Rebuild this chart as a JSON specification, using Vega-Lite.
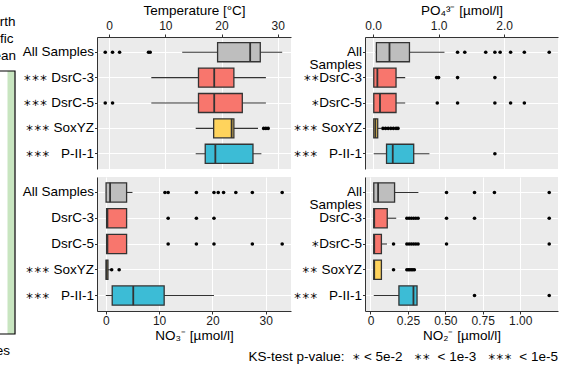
{
  "$schema": "https://vega.github.io/schema/vega-lite/v6.json",
  "autosize": "none",
  "padding": {"left": 0, "top": 37, "right": 565, "bottom": 331},
  "config": {
    "font": "Liberation Sans",
    "view": {"stroke": null, "fill": "#EBEBEB"},
    "axis": {
      "labelFont": "Liberation Sans, DejaVu Sans Mono", "titleFont": "Liberation Sans",
      "labelColor": "#1A1A1A", "titleColor": "#000000", "titleFontWeight": "normal",
      "titleFontSize": 13.5, "labelFontSize": 12,
      "tickColor": "#333333", "tickSize": 3, "tickWidth": 1,
      "domainColor": "#333333", "domainWidth": 1,
      "gridColor": "#FFFFFF", "gridWidth": 1.1, "gridOpacity": 1,
      "labelPadding": 1.5, "titlePadding": 2
    },
    "axisY": {"labelFontSize": 13.5, "labelColor": "#000000", "labelPadding": 1, "tickSize": 2.5}
  },
  "title": {
    "text": "KS-test p-value:\u00a0\u00a0∗ < 5e-2\u00a0\u00a0\u00a0∗∗\u00a0 < 1e-3\u00a0\u00a0\u00a0∗∗∗\u00a0 < 1e-5",
    "orient": "bottom", "anchor": "end", "frame": "bounds",
    "font": "Liberation Sans, DejaVu Sans Mono", "fontSize": 13.5, "fontWeight": "normal", "color": "#000000", "offset": -8
  },
  "datasets": {
    "boxes": [
      {"variable": "temp", "group": "All Samples", "lo": 13.0, "q1": 19.3, "med": 25.1, "q3": 26.9, "hi": 30.8},
      {"variable": "temp", "group": "DsrC-3", "lo": 7.5, "q1": 15.9, "med": 18.7, "q3": 22.2, "hi": 27.9},
      {"variable": "temp", "group": "DsrC-5", "lo": 7.5, "q1": 15.9, "med": 18.7, "q3": 23.7, "hi": 27.9},
      {"variable": "temp", "group": "SoxYZ", "lo": 15.4, "q1": 18.6, "med": 21.8, "q3": 22.2, "hi": 26.5},
      {"variable": "temp", "group": "P-II-1", "lo": 15.4, "q1": 17.1, "med": 18.9, "q3": 25.6, "hi": 27.1},
      {"variable": "no3", "group": "All Samples", "lo": 0.0, "q1": 0.05, "med": 0.8, "q3": 3.9, "hi": 5.0},
      {"variable": "no3", "group": "DsrC-3", "lo": 0.1, "q1": 0.15, "med": 0.3, "q3": 3.9, "hi": 3.9},
      {"variable": "no3", "group": "DsrC-5", "lo": 0.1, "q1": 0.15, "med": 0.3, "q3": 3.9, "hi": 3.9},
      {"variable": "no3", "group": "SoxYZ", "lo": 0.0, "q1": 0.05, "med": 0.15, "q3": 0.4, "hi": 0.8},
      {"variable": "no3", "group": "P-II-1", "lo": 0.0, "q1": 1.2, "med": 5.15, "q3": 10.95, "hi": 20.3},
      {"variable": "po4", "group": "All Samples", "lo": 0.04, "q1": 0.05, "med": 0.25, "q3": 0.555, "hi": 1.09},
      {"variable": "po4", "group": "DsrC-3", "lo": 0.01, "q1": 0.01, "med": 0.065, "q3": 0.35, "hi": 0.49},
      {"variable": "po4", "group": "DsrC-5", "lo": 0.01, "q1": 0.01, "med": 0.105, "q3": 0.35, "hi": 0.49},
      {"variable": "po4", "group": "SoxYZ", "lo": 0.01, "q1": 0.01, "med": 0.035, "q3": 0.07, "hi": 0.12},
      {"variable": "po4", "group": "P-II-1", "lo": 0.01, "q1": 0.205, "med": 0.3, "q3": 0.62, "hi": 0.86},
      {"variable": "no2", "group": "All Samples", "lo": 0.022, "q1": 0.022, "med": 0.051, "q3": 0.161, "hi": 0.32},
      {"variable": "no2", "group": "DsrC-3", "lo": 0.022, "q1": 0.022, "med": 0.025, "q3": 0.112, "hi": 0.172},
      {"variable": "no2", "group": "DsrC-5", "lo": 0.022, "q1": 0.022, "med": 0.025, "q3": 0.073, "hi": 0.11},
      {"variable": "no2", "group": "SoxYZ", "lo": 0.022, "q1": 0.022, "med": 0.025, "q3": 0.073, "hi": 0.073},
      {"variable": "no2", "group": "P-II-1", "lo": 0.022, "q1": 0.19, "med": 0.287, "q3": 0.311, "hi": 0.311}
    ],
    "outliers": [
      {"variable": "temp", "group": "All Samples", "value": -0.7},
      {"variable": "temp", "group": "All Samples", "value": 0.6},
      {"variable": "temp", "group": "All Samples", "value": 1.85},
      {"variable": "temp", "group": "All Samples", "value": 7.0},
      {"variable": "temp", "group": "All Samples", "value": 7.3},
      {"variable": "temp", "group": "DsrC-5", "value": -0.7},
      {"variable": "temp", "group": "DsrC-5", "value": 0.6},
      {"variable": "temp", "group": "SoxYZ", "value": 27.5},
      {"variable": "temp", "group": "SoxYZ", "value": 27.9},
      {"variable": "temp", "group": "SoxYZ", "value": 28.3},
      {"variable": "no3", "group": "All Samples", "value": 11.1},
      {"variable": "no3", "group": "All Samples", "value": 11.7},
      {"variable": "no3", "group": "All Samples", "value": 17.0},
      {"variable": "no3", "group": "All Samples", "value": 20.3},
      {"variable": "no3", "group": "All Samples", "value": 21.1},
      {"variable": "no3", "group": "All Samples", "value": 22.1},
      {"variable": "no3", "group": "All Samples", "value": 24.4},
      {"variable": "no3", "group": "All Samples", "value": 27.5},
      {"variable": "no3", "group": "All Samples", "value": 33.1},
      {"variable": "no3", "group": "DsrC-3", "value": 11.7},
      {"variable": "no3", "group": "DsrC-3", "value": 17.0},
      {"variable": "no3", "group": "DsrC-3", "value": 20.3},
      {"variable": "no3", "group": "DsrC-5", "value": 11.7},
      {"variable": "no3", "group": "DsrC-5", "value": 17.0},
      {"variable": "no3", "group": "DsrC-5", "value": 20.3},
      {"variable": "no3", "group": "DsrC-5", "value": 27.5},
      {"variable": "no3", "group": "DsrC-5", "value": 33.1},
      {"variable": "no3", "group": "SoxYZ", "value": 1.1},
      {"variable": "no3", "group": "SoxYZ", "value": 2.5},
      {"variable": "po4", "group": "All Samples", "value": 1.29},
      {"variable": "po4", "group": "All Samples", "value": 1.4},
      {"variable": "po4", "group": "All Samples", "value": 1.72},
      {"variable": "po4", "group": "All Samples", "value": 1.86},
      {"variable": "po4", "group": "All Samples", "value": 1.94},
      {"variable": "po4", "group": "All Samples", "value": 2.1},
      {"variable": "po4", "group": "All Samples", "value": 2.31},
      {"variable": "po4", "group": "All Samples", "value": 2.69},
      {"variable": "po4", "group": "DsrC-3", "value": 0.97},
      {"variable": "po4", "group": "DsrC-3", "value": 1.0},
      {"variable": "po4", "group": "DsrC-3", "value": 1.29},
      {"variable": "po4", "group": "DsrC-3", "value": 1.86},
      {"variable": "po4", "group": "DsrC-5", "value": 0.98},
      {"variable": "po4", "group": "DsrC-5", "value": 1.29},
      {"variable": "po4", "group": "DsrC-5", "value": 1.86},
      {"variable": "po4", "group": "DsrC-5", "value": 2.1},
      {"variable": "po4", "group": "DsrC-5", "value": 2.31},
      {"variable": "po4", "group": "SoxYZ", "value": 0.15},
      {"variable": "po4", "group": "SoxYZ", "value": 0.19},
      {"variable": "po4", "group": "SoxYZ", "value": 0.23},
      {"variable": "po4", "group": "SoxYZ", "value": 0.27},
      {"variable": "po4", "group": "SoxYZ", "value": 0.31},
      {"variable": "po4", "group": "SoxYZ", "value": 0.35},
      {"variable": "po4", "group": "SoxYZ", "value": 0.38},
      {"variable": "po4", "group": "P-II-1", "value": 1.86},
      {"variable": "no2", "group": "All Samples", "value": 0.508},
      {"variable": "no2", "group": "All Samples", "value": 0.695},
      {"variable": "no2", "group": "All Samples", "value": 0.828},
      {"variable": "no2", "group": "All Samples", "value": 1.194},
      {"variable": "no2", "group": "DsrC-3", "value": 0.243},
      {"variable": "no2", "group": "DsrC-3", "value": 0.258},
      {"variable": "no2", "group": "DsrC-3", "value": 0.273},
      {"variable": "no2", "group": "DsrC-3", "value": 0.288},
      {"variable": "no2", "group": "DsrC-3", "value": 0.303},
      {"variable": "no2", "group": "DsrC-3", "value": 0.318},
      {"variable": "no2", "group": "DsrC-3", "value": 0.508},
      {"variable": "no2", "group": "DsrC-3", "value": 0.695},
      {"variable": "no2", "group": "DsrC-3", "value": 1.194},
      {"variable": "no2", "group": "DsrC-5", "value": 0.154},
      {"variable": "no2", "group": "DsrC-5", "value": 0.243},
      {"variable": "no2", "group": "DsrC-5", "value": 0.258},
      {"variable": "no2", "group": "DsrC-5", "value": 0.273},
      {"variable": "no2", "group": "DsrC-5", "value": 0.288},
      {"variable": "no2", "group": "DsrC-5", "value": 0.303},
      {"variable": "no2", "group": "DsrC-5", "value": 0.318},
      {"variable": "no2", "group": "DsrC-5", "value": 0.508},
      {"variable": "no2", "group": "DsrC-5", "value": 1.194},
      {"variable": "no2", "group": "SoxYZ", "value": 0.154},
      {"variable": "no2", "group": "SoxYZ", "value": 0.243},
      {"variable": "no2", "group": "SoxYZ", "value": 0.253},
      {"variable": "no2", "group": "SoxYZ", "value": 0.263},
      {"variable": "no2", "group": "SoxYZ", "value": 0.273},
      {"variable": "no2", "group": "SoxYZ", "value": 0.283},
      {"variable": "no2", "group": "SoxYZ", "value": 0.293},
      {"variable": "no2", "group": "P-II-1", "value": 0.695},
      {"variable": "no2", "group": "P-II-1", "value": 1.194}
    ],
    "deco": [
      {"kind": "frame", "x0": -10, "x1": 15, "y0": 34, "y1": 297},
      {"kind": "fill", "x0": 7.5, "x1": 14.5, "y0": 34, "y1": 297},
      {"kind": "label", "text": "North", "x0": 15.5, "y0": -11},
      {"kind": "label", "text": "Pacific", "x0": 13.5, "y0": 6},
      {"kind": "label", "text": "Ocean", "x0": 16, "y0": 23},
      {"kind": "label", "text": "Samples", "x0": 10, "y0": 318}
    ]
  },
  "columns": 3,
  "align": "each",
  "bounds": "flush",
  "spacing": {"row": 8, "column": 74},
  "concat": [
    {
      "width": 23, "height": 132,
      "view": {"fill": null, "stroke": null},
      "data": {"name": "deco"},
      "layer": [
        {
          "transform": [{"filter": "datum.kind == 'frame'"}],
          "mark": {"type": "rect", "fill": "#FFFFFF", "stroke": null},
          "encoding": {
            "x": {"field": "x0", "type": "quantitative", "scale": {"domain": [0, 23], "nice": false, "zero": false}, "axis": null},
            "x2": {"field": "x1"},
            "y": {"field": "y0", "type": "quantitative", "scale": {"domain": [0, 132], "nice": false, "zero": false, "reverse": true}, "axis": null},
            "y2": {"field": "y1"}
          }
        },
        {
          "transform": [{"filter": "datum.kind == 'fill'"}],
          "mark": {"type": "rect", "fill": "#C8E5C0", "stroke": null},
          "encoding": {
            "x": {"field": "x0", "type": "quantitative"},
            "x2": {"field": "x1"},
            "y": {"field": "y0", "type": "quantitative"},
            "y2": {"field": "y1"}
          }
        },
        {
          "transform": [{"filter": "datum.kind == 'frame'"}],
          "mark": {"type": "rect", "fill": null, "stroke": "#000000", "strokeWidth": 1.2},
          "encoding": {
            "x": {"field": "x0", "type": "quantitative"},
            "x2": {"field": "x1"},
            "y": {"field": "y0", "type": "quantitative"},
            "y2": {"field": "y1"}
          }
        },
        {
          "transform": [{"filter": "datum.kind == 'label'"}],
          "mark": {"type": "text", "align": "right", "baseline": "alphabetic", "fontSize": 13.5, "font": "Liberation Sans", "color": "#000000"},
          "encoding": {
            "x": {"field": "x0", "type": "quantitative"},
            "y": {"field": "y0", "type": "quantitative"},
            "text": {"field": "text"}
          }
        }
      ]
    },
    {
      "width": 194, "height": 132,
      "view": {"fill": "#EBEBEB", "stroke": null},
      "layer": [
        {
          "data": {"name": "boxes"},
          "transform": [{"filter": "datum.variable == 'temp'"}],
          "mark": {"type": "rule", "color": "#333333", "strokeWidth": 1.1},
          "encoding": {
            "y": {"field": "group", "type": "nominal", "title": null,
              "scale": {"domain": ["All Samples", "DsrC-3", "DsrC-5", "SoxYZ", "P-II-1"], "paddingInner": 0.25, "paddingOuter": 0.225},
              "axis": {"grid": true, "labelExpr": "datum.value == 'All Samples' ? 'All Samples' : datum.value == 'P-II-1' ? '∗∗∗\u00a0\u00a0\u00a0P-II-1' : '∗∗∗\u00a0' + datum.value"}},
            "x": {"field": "lo", "type": "quantitative", "title": "Temperature [°C]",
              "scale": {"domain": [-2.17, 32.37], "nice": false, "zero": false},
              "axis": {"orient": "top", "values": [0, 5, 10, 15, 20, 25, 30],
                "labelExpr": "datum.value % 10 == 0 ? datum.label : ''",
                "gridWidth": {"condition": {"test": "datum.value % 10 != 0", "value": 0.55}, "value": 1.1},
                "tickOpacity": {"condition": {"test": "datum.value % 10 != 0", "value": 0}, "value": 1}}},
            "x2": {"field": "hi"}
          }
        },
        {
          "data": {"name": "boxes"},
          "transform": [{"filter": "datum.variable == 'temp'"}],
          "mark": {"type": "bar", "stroke": "#333333", "strokeWidth": 1.3},
          "encoding": {
            "y": {"field": "group", "type": "nominal", "title": null},
            "x": {"field": "q1", "type": "quantitative", "title": "Temperature [°C]"},
            "x2": {"field": "q3"},
            "color": {"field": "group", "type": "nominal", "legend": null,
              "scale": {"domain": ["All Samples", "DsrC-3", "DsrC-5", "SoxYZ", "P-II-1"], "range": ["#BEBEBE", "#F8766D", "#F8766D", "#FFD35C", "#3CBCD6"]}}
          }
        },
        {
          "data": {"name": "boxes"},
          "transform": [{"filter": "datum.variable == 'temp'"}],
          "mark": {"type": "bar", "fill": "#333333", "stroke": "#333333", "strokeWidth": 1.8},
          "encoding": {
            "y": {"field": "group", "type": "nominal", "title": null},
            "x": {"field": "med", "type": "quantitative", "title": "Temperature [°C]"},
            "x2": {"field": "med"}
          }
        },
        {
          "data": {"name": "outliers"},
          "transform": [{"filter": "datum.variable == 'temp'"}],
          "mark": {"type": "point", "filled": true, "color": "#000000", "size": 13, "opacity": 1},
          "encoding": {
            "y": {"field": "group", "type": "nominal", "title": null},
            "x": {"field": "value", "type": "quantitative", "title": "Temperature [°C]"}
          }
        }
      ]
    },
    {
      "width": 193, "height": 132,
      "view": {"fill": "#EBEBEB", "stroke": null},
      "layer": [
        {
          "data": {"name": "boxes"},
          "transform": [{"filter": "datum.variable == 'po4'"}],
          "mark": {"type": "rule", "color": "#333333", "strokeWidth": 1.1},
          "encoding": {
            "y": {"field": "group", "type": "nominal", "title": null,
              "scale": {"domain": ["All Samples", "DsrC-3", "DsrC-5", "SoxYZ", "P-II-1"], "paddingInner": 0.25, "paddingOuter": 0.225},
              "axis": {"grid": true, "labelLineHeight": 13, "labelExpr": "datum.value == 'All Samples' ? ['All', 'Samples'] : datum.value == 'DsrC-3' ? '∗∗DsrC-3' : datum.value == 'DsrC-5' ? '∗DsrC-5' : datum.value == 'SoxYZ' ? '∗∗∗\u00a0SoxYZ' : '∗∗∗\u00a0\u00a0\u00a0P-II-1'"}},
            "x": {"field": "lo", "type": "quantitative", "title": "PO₄³⁻ [µmol/l]",
              "scale": {"domain": [-0.124, 2.824], "nice": false, "zero": false},
              "axis": {"orient": "top", "values": [0, 0.5, 1, 1.5, 2, 2.5],
                "labelExpr": "round(datum.value) == datum.value ? datum.label : ''",
                "gridWidth": {"condition": {"test": "round(datum.value) != datum.value", "value": 0.55}, "value": 1.1},
                "tickOpacity": {"condition": {"test": "round(datum.value) != datum.value", "value": 0}, "value": 1}}},
            "x2": {"field": "hi"}
          }
        },
        {
          "data": {"name": "boxes"},
          "transform": [{"filter": "datum.variable == 'po4'"}],
          "mark": {"type": "bar", "stroke": "#333333", "strokeWidth": 1.3},
          "encoding": {
            "y": {"field": "group", "type": "nominal", "title": null},
            "x": {"field": "q1", "type": "quantitative", "title": "PO₄³⁻ [µmol/l]"},
            "x2": {"field": "q3"},
            "color": {"field": "group", "type": "nominal", "legend": null,
              "scale": {"domain": ["All Samples", "DsrC-3", "DsrC-5", "SoxYZ", "P-II-1"], "range": ["#BEBEBE", "#F8766D", "#F8766D", "#FFD35C", "#3CBCD6"]}}
          }
        },
        {
          "data": {"name": "boxes"},
          "transform": [{"filter": "datum.variable == 'po4'"}],
          "mark": {"type": "bar", "fill": "#333333", "stroke": "#333333", "strokeWidth": 1.8},
          "encoding": {
            "y": {"field": "group", "type": "nominal", "title": null},
            "x": {"field": "med", "type": "quantitative", "title": "PO₄³⁻ [µmol/l]"},
            "x2": {"field": "med"}
          }
        },
        {
          "data": {"name": "outliers"},
          "transform": [{"filter": "datum.variable == 'po4'"}],
          "mark": {"type": "point", "filled": true, "color": "#000000", "size": 13, "opacity": 1},
          "encoding": {
            "y": {"field": "group", "type": "nominal", "title": null},
            "x": {"field": "value", "type": "quantitative", "title": "PO₄³⁻ [µmol/l]"}
          }
        }
      ]
    },
    {
      "width": 23, "height": 134,
      "view": {"fill": null, "stroke": null},
      "data": {"values": [{"kind": "blank"}]},
      "mark": {"type": "point", "opacity": 0},
      "encoding": {}
    },
    {
      "width": 194, "height": 134,
      "view": {"fill": "#EBEBEB", "stroke": null},
      "layer": [
        {
          "data": {"name": "boxes"},
          "transform": [{"filter": "datum.variable == 'no3'"}],
          "mark": {"type": "rule", "color": "#333333", "strokeWidth": 1.1},
          "encoding": {
            "y": {"field": "group", "type": "nominal", "title": null,
              "scale": {"domain": ["All Samples", "DsrC-3", "DsrC-5", "SoxYZ", "P-II-1"], "paddingInner": 0.25, "paddingOuter": 0.225},
              "axis": {"grid": true, "labelExpr": "datum.value == 'SoxYZ' ? '∗∗∗\u00a0SoxYZ' : datum.value == 'P-II-1' ? '∗∗∗\u00a0\u00a0\u00a0P-II-1' : datum.value"}},
            "x": {"field": "lo", "type": "quantitative", "title": "NO₃⁻ [µmol/l]",
              "scale": {"domain": [-1.655, 34.755], "nice": false, "zero": false},
              "axis": {"orient": "bottom", "values": [0, 5, 10, 15, 20, 25, 30],
                "labelExpr": "datum.value % 10 == 0 ? datum.label : ''",
                "gridWidth": {"condition": {"test": "datum.value % 10 != 0", "value": 0.55}, "value": 1.1},
                "tickOpacity": {"condition": {"test": "datum.value % 10 != 0", "value": 0}, "value": 1}}},
            "x2": {"field": "hi"}
          }
        },
        {
          "data": {"name": "boxes"},
          "transform": [{"filter": "datum.variable == 'no3'"}],
          "mark": {"type": "bar", "stroke": "#333333", "strokeWidth": 1.3},
          "encoding": {
            "y": {"field": "group", "type": "nominal", "title": null},
            "x": {"field": "q1", "type": "quantitative", "title": "NO₃⁻ [µmol/l]"},
            "x2": {"field": "q3"},
            "color": {"field": "group", "type": "nominal", "legend": null,
              "scale": {"domain": ["All Samples", "DsrC-3", "DsrC-5", "SoxYZ", "P-II-1"], "range": ["#BEBEBE", "#F8766D", "#F8766D", "#FFD35C", "#3CBCD6"]}}
          }
        },
        {
          "data": {"name": "boxes"},
          "transform": [{"filter": "datum.variable == 'no3'"}],
          "mark": {"type": "bar", "fill": "#333333", "stroke": "#333333", "strokeWidth": 1.8},
          "encoding": {
            "y": {"field": "group", "type": "nominal", "title": null},
            "x": {"field": "med", "type": "quantitative", "title": "NO₃⁻ [µmol/l]"},
            "x2": {"field": "med"}
          }
        },
        {
          "data": {"name": "outliers"},
          "transform": [{"filter": "datum.variable == 'no3'"}],
          "mark": {"type": "point", "filled": true, "color": "#000000", "size": 13, "opacity": 1},
          "encoding": {
            "y": {"field": "group", "type": "nominal", "title": null},
            "x": {"field": "value", "type": "quantitative", "title": "NO₃⁻ [µmol/l]"}
          }
        }
      ]
    },
    {
      "width": 193, "height": 134,
      "view": {"fill": "#EBEBEB", "stroke": null},
      "layer": [
        {
          "data": {"name": "boxes"},
          "transform": [{"filter": "datum.variable == 'no2'"}],
          "mark": {"type": "rule", "color": "#333333", "strokeWidth": 1.1},
          "encoding": {
            "y": {"field": "group", "type": "nominal", "title": null,
              "scale": {"domain": ["All Samples", "DsrC-3", "DsrC-5", "SoxYZ", "P-II-1"], "paddingInner": 0.25, "paddingOuter": 0.225},
              "axis": {"grid": true, "labelLineHeight": 13, "labelExpr": "datum.value == 'All Samples' ? ['All', 'Samples'] : datum.value == 'DsrC-5' ? '∗DsrC-5' : datum.value == 'SoxYZ' ? '∗∗\u00a0SoxYZ' : datum.value == 'P-II-1' ? '∗∗∗\u00a0\u00a0\u00a0P-II-1' : datum.value"}},
            "x": {"field": "lo", "type": "quantitative", "title": "NO₂⁻ [µmol/l]",
              "scale": {"domain": [-0.0366, 1.2526], "nice": false, "zero": false},
              "axis": {"orient": "bottom", "values": [0, 0.125, 0.25, 0.375, 0.5, 0.625, 0.75, 0.875, 1, 1.125],
                "labelExpr": "round(datum.value * 4) != datum.value * 4 ? '' : datum.value == 0 ? '0' : format(datum.value, '.2f')",
                "gridWidth": {"condition": {"test": "round(datum.value * 4) != datum.value * 4", "value": 0.55}, "value": 1.1},
                "tickOpacity": {"condition": {"test": "round(datum.value * 4) != datum.value * 4", "value": 0}, "value": 1}}},
            "x2": {"field": "hi"}
          }
        },
        {
          "data": {"name": "boxes"},
          "transform": [{"filter": "datum.variable == 'no2'"}],
          "mark": {"type": "bar", "stroke": "#333333", "strokeWidth": 1.3},
          "encoding": {
            "y": {"field": "group", "type": "nominal", "title": null},
            "x": {"field": "q1", "type": "quantitative", "title": "NO₂⁻ [µmol/l]"},
            "x2": {"field": "q3"},
            "color": {"field": "group", "type": "nominal", "legend": null,
              "scale": {"domain": ["All Samples", "DsrC-3", "DsrC-5", "SoxYZ", "P-II-1"], "range": ["#BEBEBE", "#F8766D", "#F8766D", "#FFD35C", "#3CBCD6"]}}
          }
        },
        {
          "data": {"name": "boxes"},
          "transform": [{"filter": "datum.variable == 'no2'"}],
          "mark": {"type": "bar", "fill": "#333333", "stroke": "#333333", "strokeWidth": 1.8},
          "encoding": {
            "y": {"field": "group", "type": "nominal", "title": null},
            "x": {"field": "med", "type": "quantitative", "title": "NO₂⁻ [µmol/l]"},
            "x2": {"field": "med"}
          }
        },
        {
          "data": {"name": "outliers"},
          "transform": [{"filter": "datum.variable == 'no2'"}],
          "mark": {"type": "point", "filled": true, "color": "#000000", "size": 13, "opacity": 1},
          "encoding": {
            "y": {"field": "group", "type": "nominal", "title": null},
            "x": {"field": "value", "type": "quantitative", "title": "NO₂⁻ [µmol/l]"}
          }
        }
      ]
    }
  ]
}
